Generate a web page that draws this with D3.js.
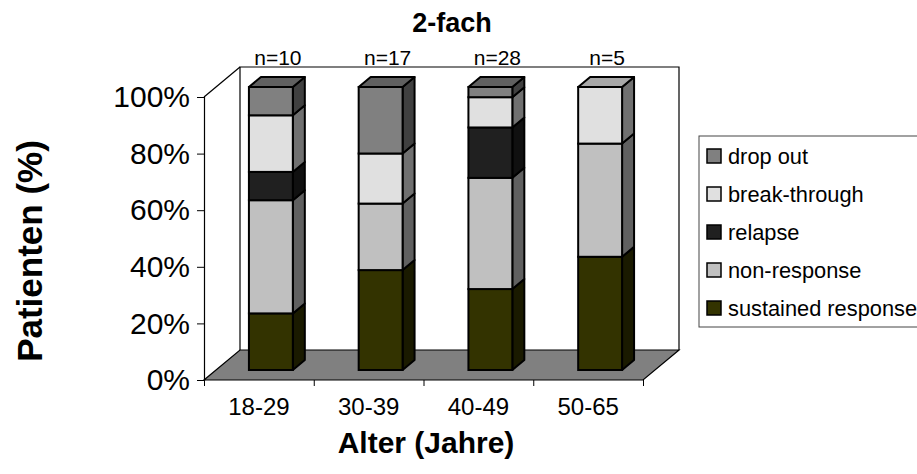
<!DOCTYPE html>
<html>
<head>
<meta charset="utf-8">
<script src="https://cdn.jsdelivr.net/npm/d3@7"></script>
<style>
  body { margin: 0; background: #fff; }
  text { font-family: Arial, "Liberation Sans", sans-serif; fill: #000; }
</style>
</head>
<body>
<div id="chart"></div>
<script>
// Daten (Prozent je Altersgruppe)
const categories = ["18-29", "30-39", "40-49", "50-65"];
const nLabels = ["n=10", "n=17", "n=28", "n=5"];
const sustained = [20, 35.3, 28.6, 40];
const nonResponse = [40, 23.5, 39.3, 40];
const relapse = [10, 0, 17.8, 0];
const breakThrough = [20, 17.7, 10.7, 20];
const dropOut = [10, 23.5, 3.6, 0];
const yTicks = [0, 20, 40, 60, 80, 100];

const keys = ["sustained response", "non-response", "relapse", "break-through", "drop out"];
const colors = {
  "sustained response": "#333300",
  "non-response": "#c0c0c0",
  "relapse": "#202020",
  "break-through": "#e0e0e0",
  "drop out": "#808080",
};

const rows = categories.map((c, i) => ({
  cat: c,
  "sustained response": sustained[i],
  "non-response": nonResponse[i],
  "relapse": relapse[i],
  "break-through": breakThrough[i],
  "drop out": dropOut[i],
}));

const width = 917;
const height = 474;

// Tiefe der 3D-Darstellung
const depthX = 36;
const depthY = -30;

const svg = d3
  .select("#chart")
  .append("svg")
  .attr("width", width)
  .attr("height", height);

const x = d3.scaleBand().domain(categories).range([204, 643]).padding(0);
const xEdges = d3.scaleLinear().domain([0, categories.length]).range([204, 643]);
const y = d3.scaleLinear().domain([0, 100]).range([380, 97]);

const shade = (c, k) => {
  const r = d3.rgb(c);
  return d3.rgb(r.r * k, r.g * k, r.b * k).formatHex();
};

// Wände und Boden
svg.append("path")
  .attr("d", `M${x.range()[0] + depthX},${y(0) + depthY}V${y(100) + depthY}H${x.range()[1] + depthX}V${y(0) + depthY}`)
  .attr("fill", "#fff")
  .attr("stroke", "#000")
  .attr("stroke-width", 1.2);

svg.append("path")
  .attr("d", `M${x.range()[0]},${y(100)}L${x.range()[0] + depthX},${y(100) + depthY}`)
  .attr("fill", "none")
  .attr("stroke", "#000")
  .attr("stroke-width", 1.2);

svg.append("path")
  .attr("d", `M${x.range()[0]},${y(0)}H${x.range()[1]}L${x.range()[1] + depthX},${y(0) + depthY}H${x.range()[0] + depthX}Z`)
  .attr("fill", "#808080")
  .attr("stroke", "#000")
  .attr("stroke-width", 1.2);

// Y-Achse
svg.append("g")
  .attr("transform", `translate(${x.range()[0]},0)`)
  .call(d3.axisLeft(y).tickValues(yTicks).tickSize(7).tickPadding(7).tickFormat((d) => d + "%"))
  .call((g) => g.select(".domain").attr("stroke", "#000").attr("stroke-width", 1.2))
  .call((g) => g.selectAll(".tick line").attr("stroke", "#000"))
  .call((g) => g.selectAll(".tick text").attr("font-size", 30).attr("font-family", null));

// X-Achse
svg.append("g")
  .attr("transform", `translate(0,${y(0)})`)
  .call(d3.axisBottom(xEdges).ticks(4).tickSize(6).tickFormat(""))
  .call((g) => g.select(".domain").remove())
  .call((g) => g.selectAll(".tick line").attr("stroke", "#000"));

svg.append("g")
  .attr("transform", `translate(0,${y(0)})`)
  .call(d3.axisBottom(x).tickSize(0).tickPadding(18))
  .call((g) => g.select(".domain").remove())
  .call((g) => g.selectAll(".tick text").attr("font-size", 24).attr("font-family", null));

// Säulen
const stacked = d3.stack().keys(keys)(rows);
const barW = x.bandwidth() * 0.4;
const bx = (cat) => x(cat) + (x.bandwidth() - barW) / 2 + depthX / 3;
const by = (v) => y(v) + depthY / 3;
const dx = depthX / 3;
const dy = depthY / 3;

categories.forEach((cat, i) => {
  const g = svg.append("g");
  const segs = stacked.filter((s) => s[i][1] - s[i][0] > 0);
  segs.forEach((s, j) => {
    const x0 = bx(cat);
    const x1 = x0 + barW;
    const yTop = by(s[i][1]);
    const yBot = by(s[i][0]);
    const col = colors[s.key];
    g.append("path")
      .attr("d", `M${x1},${yBot}L${x1 + dx},${yBot + dy}V${yTop + dy}L${x1},${yTop}Z`)
      .attr("fill", shade(col, 0.5))
      .attr("stroke", "#000")
      .attr("stroke-width", 2)
      .attr("stroke-linejoin", "round");
    g.append("rect")
      .attr("x", x0)
      .attr("y", yTop)
      .attr("width", barW)
      .attr("height", yBot - yTop)
      .attr("fill", col)
      .attr("stroke", "#000")
      .attr("stroke-width", 2);
    if (j === segs.length - 1) {
      g.append("path")
        .attr("d", `M${x0},${yTop}L${x0 + dx},${yTop + dy}H${x1 + dx}L${x1},${yTop}Z`)
        .attr("fill", shade(col, 0.75))
        .attr("stroke", "#000")
        .attr("stroke-width", 2)
        .attr("stroke-linejoin", "round");
    }
  });
});

// n-Beschriftung
svg.selectAll(".nlab")
  .data(nLabels)
  .enter()
  .append("text")
  .attr("class", "nlab")
  .attr("x", (d, i) => x(categories[i]) + x.bandwidth() / 2 + dx + dx / 2 + 1)
  .attr("y", 65)
  .attr("text-anchor", "middle")
  .attr("font-size", 21)
  .text((d) => d);

// Titel
svg.append("text")
  .attr("x", 452)
  .attr("y", 32)
  .attr("text-anchor", "middle")
  .attr("font-size", 27)
  .attr("font-weight", "bold")
  .text("2-fach");

svg.append("text")
  .attr("transform", "translate(42,251) rotate(-90)")
  .attr("text-anchor", "middle")
  .attr("font-size", 35)
  .attr("font-weight", "bold")
  .text("Patienten (%)");

svg.append("text")
  .attr("x", 426)
  .attr("y", 453)
  .attr("text-anchor", "middle")
  .attr("font-size", 30)
  .attr("font-weight", "bold")
  .text("Alter (Jahre)");

// Legende
const legend = svg.append("g");
legend.append("rect")
  .attr("x", 699)
  .attr("y", 136)
  .attr("width", 300)
  .attr("height", 191)
  .attr("fill", "#fff")
  .attr("stroke", "#444")
  .attr("stroke-width", 1);

const legendKeys = keys.slice().reverse();
const item = legend.selectAll(".item")
  .data(legendKeys)
  .enter()
  .append("g")
  .attr("class", "item")
  .attr("transform", (d, i) => `translate(707,${156 + i * 38})`);

item.append("rect")
  .attr("x", 0)
  .attr("y", -7)
  .attr("width", 14)
  .attr("height", 14)
  .attr("fill", (d) => colors[d])
  .attr("stroke", "#000")
  .attr("stroke-width", 1.5);

item.append("text")
  .attr("x", 21)
  .attr("y", 0)
  .attr("dy", "0.35em")
  .attr("font-size", 21.8)
  .text((d) => d);
</script>
</body>
</html>
